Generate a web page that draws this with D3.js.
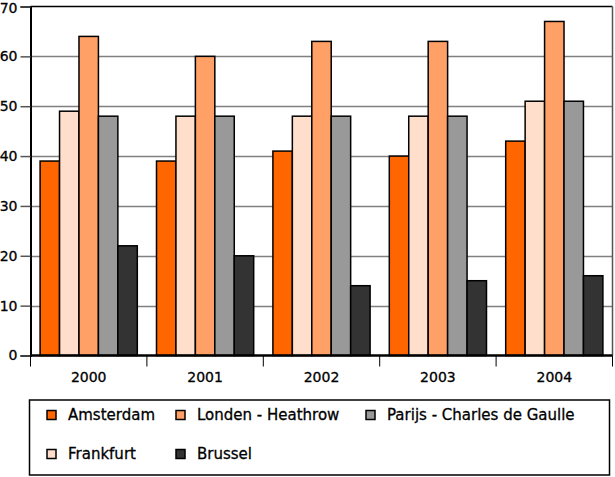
<!DOCTYPE html>
<html><head><meta charset="utf-8">
<script src="https://cdn.jsdelivr.net/npm/d3@7"></script>
<style>body{margin:0;background:#fff}svg{display:block}text{font-family:"DejaVu Sans",sans-serif;}</style>
</head><body><svg id="c" width="615" height="477"></svg>
<script>
const years = ["2000","2001","2002","2003","2004"];
const seriesNames = ["Amsterdam","Frankfurt","Londen - Heathrow","Parijs - Charles de Gaulle","Brussel"];
const amsterdam = [39,39,41,40,43];
const frankfurt = [49,48,48,48,51];
const londen = [64,60,63,63,67];
const parijs = [48,48,48,48,51];
const brussel = [22,20,14,15,16];
const colors = ["#ff6600","#ffdfcc","#ffa066","#999999","#333333"];
const yTicks = [0,10,20,30,40,50,60,70];
const legendOrder = [0,2,3,1,4];

const values = [amsterdam, frankfurt, londen, parijs, brussel];
const svg = d3.select("#c");
const L=30.5, R=612.5, T=6.5, B=355.5;
const x = d3.scaleBand().domain(years).range([L,R]).paddingInner(0.165).paddingOuter(0.0825);
const x0 = d3.scaleBand().domain(years).range([L,R]);
const xs = d3.scaleBand().domain(d3.range(5)).range([0,x.bandwidth()]);
const y = d3.scaleLinear().domain([0,70]).range([B,T]);

// grid
svg.append("g").selectAll("line").data(yTicks.filter(d=>d>0&&d<70)).join("line")
  .attr("x1",L).attr("x2",R).attr("y1",d=>Math.round(y(d))+0.5).attr("y2",d=>Math.round(y(d))+0.5)
  .attr("stroke","#808080").attr("stroke-width",1.5);
// frame
svg.append("line").attr("x1",L).attr("x2",R).attr("y1",T).attr("y2",T).attr("stroke","#000").attr("stroke-width",1.5);
svg.append("line").attr("x1",R).attr("x2",R).attr("y1",T).attr("y2",B).attr("stroke","#555").attr("stroke-width",1.5);

// bars
const g = svg.append("g");
years.forEach((yr,i)=>{
  values.forEach((arr,s)=>{
    g.append("rect").attr("x",x(yr)+xs(s)).attr("width",xs.bandwidth())
     .attr("y",y(arr[i])).attr("height",B-y(arr[i]))
     .attr("fill",colors[s]).attr("stroke","#000").attr("stroke-width",1.5);
  });
});

// y axis
const ya = svg.append("g").attr("transform",`translate(${L},0)`)
  .call(d3.axisLeft(y).tickValues(yTicks).tickSize(10).tickPadding(3));
ya.select(".domain").attr("stroke","#000").attr("stroke-width",2);
ya.selectAll(".tick line").attr("stroke","#555").attr("stroke-width",1.5);
ya.selectAll("text").attr("font-size",14).attr("fill","#000").attr("font-family","DejaVu Sans")
  .attr("stroke","#000").attr("stroke-width",0.3)
  .attr("dy",d=>d===70?"0.42em":"0.32em");

// x axis
const xa = svg.append("g").attr("transform",`translate(0,${B})`)
  .call(d3.axisBottom(x0).tickSize(0).tickPadding(17));
xa.select(".domain").attr("stroke","#000").attr("stroke-width",2.5).attr("d",`M${L},0H${R}`);
xa.selectAll("text").attr("font-size",14).attr("fill","#000").attr("font-family","DejaVu Sans")
  .attr("stroke","#000").attr("stroke-width",0.3);
svg.append("g").selectAll("line").data(years.map(d=>x0(d)).concat([R])).join("line")
  .attr("x1",d=>d).attr("x2",d=>d).attr("y1",B).attr("y2",B+11).attr("stroke","#000").attr("stroke-width",1);

// legend
svg.append("rect").attr("x",29.5).attr("y",400).attr("width",580).attr("height",75)
  .attr("fill","#fff").attr("stroke","#000").attr("stroke-width",1.5);
const legPos = [[47,415],[176,415],[366,415],[47,454],[176,454]];
legendOrder.forEach((s,k)=>{
  const [lx,ly]=legPos[k];
  svg.append("rect").attr("x",lx).attr("y",ly-4.5).attr("width",9).attr("height",9)
    .attr("fill",colors[s]).attr("stroke","#000").attr("stroke-width",1.5);
  svg.append("text").attr("x",lx+21).attr("y",ly).attr("dy","0.35em")
    .attr("font-size",15).attr("stroke","#000").attr("stroke-width",0.3).text(seriesNames[s]);
});
</script></body></html>
